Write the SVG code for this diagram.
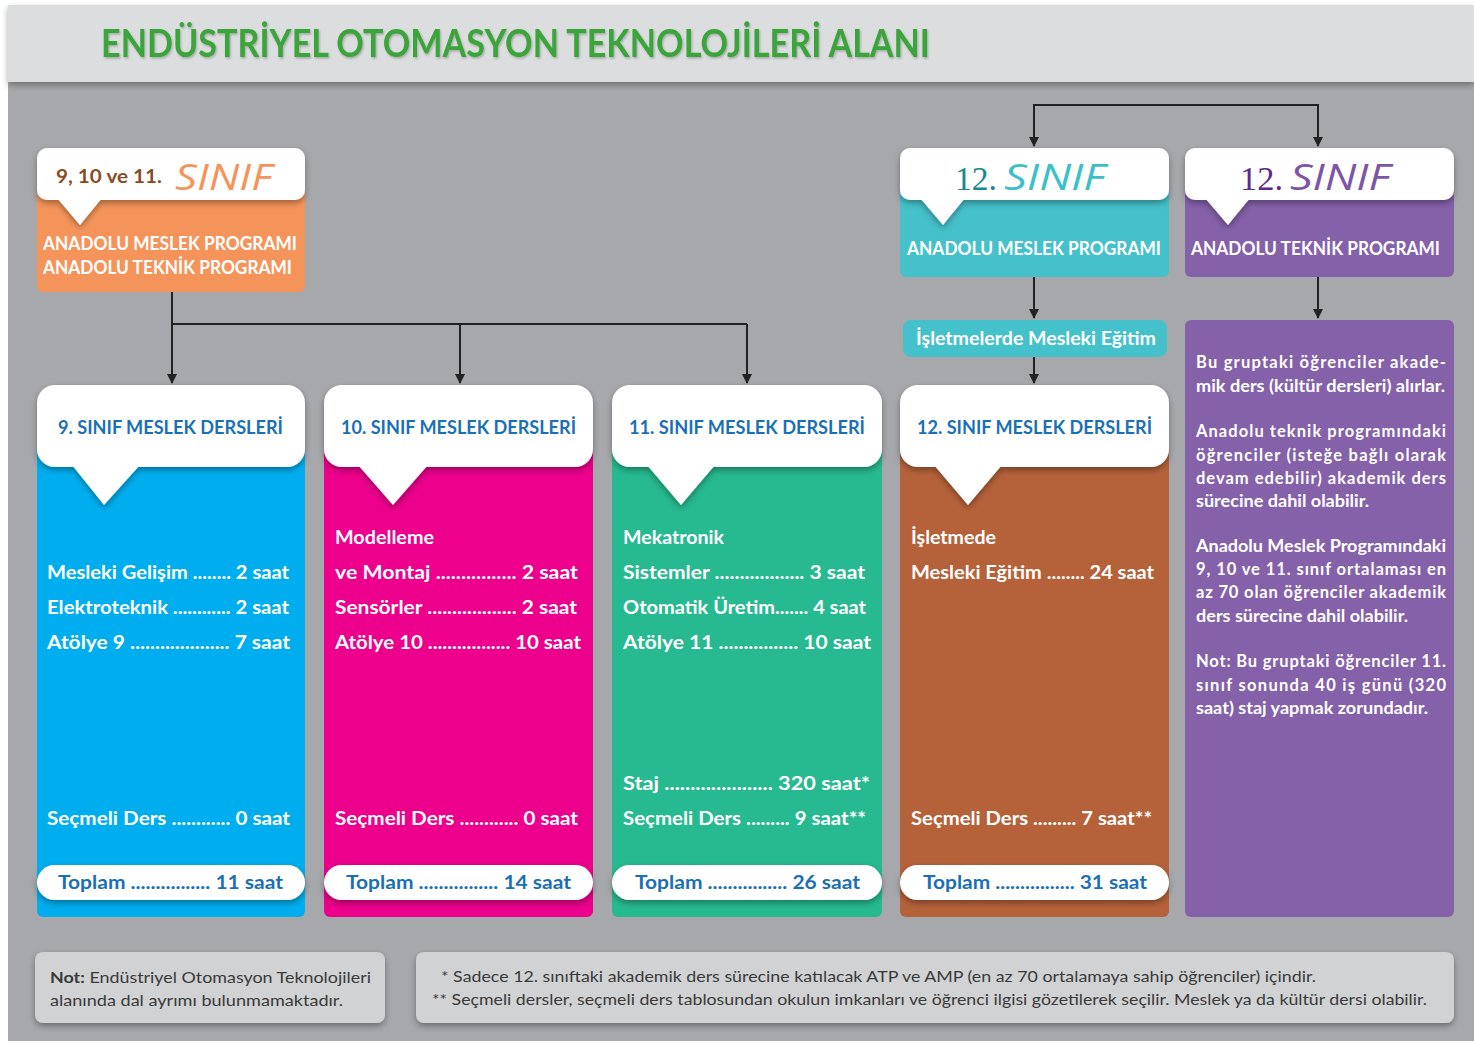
<svg xmlns="http://www.w3.org/2000/svg" width="1474" height="1041" viewBox="0 0 1474 1041">
<defs>
<style>
.b{font-family:Lato,"Open Sans","Liberation Sans",sans-serif;font-weight:700}
.r{font-family:Lato,"Open Sans","Liberation Sans",sans-serif;font-weight:400}
.w{fill:#ffffff;font-size:18px}
.hd{fill:#1a6fb5;font-size:18px}
.tp{fill:#1a6fb5;font-size:18px}
.pt{fill:#ffffff;font-size:16.5px}
.ft{fill:#3a3a3a;font-size:16px}
.ln{stroke:#222;stroke-width:2;fill:none}
.sinif{font-family:"Open Sans","DejaVu Sans",sans-serif;font-style:italic;font-weight:400;font-size:36px}
.num{font-family:"Liberation Serif",serif;font-size:34px}
</style>
<filter id="sh" x="-10%" y="-20%" width="120%" height="150%">
<feDropShadow dx="0" dy="3" stdDeviation="3" flood-color="#000" flood-opacity="0.35"/>
</filter>
<filter id="ts" x="-5%" y="-20%" width="110%" height="150%">
<feDropShadow dx="1" dy="1.5" stdDeviation="1" flood-color="#000" flood-opacity="0.25"/>
</filter>
<marker id="ah" viewBox="0 0 10 10" refX="9" refY="5" markerWidth="10" markerHeight="10" markerUnits="userSpaceOnUse" orient="auto">
<path d="M0,0 L10,5 L0,10 z" fill="#222"/>
</marker>
</defs>

<rect x="0" y="0" width="1474" height="1041" fill="#ffffff"/>
<rect x="8" y="82" width="1466" height="959" fill="#a7a8ab"/>
<rect x="8" y="5" width="1466" height="77" fill="#dcdddf" filter="url(#sh)"/>
<text x="101" y="57" class="b" font-size="38" fill="#3aa53a" textLength="829" lengthAdjust="spacingAndGlyphs" filter="url(#ts)">ENDÜSTRİYEL OTOMASYON TEKNOLOJİLERİ ALANI</text>

<g id="connectors">
<path class="ln" d="M172,292 V324 H747"/>
<path class="ln" d="M172,324 V383" marker-end="url(#ah)"/>
<path class="ln" d="M460,324 V383" marker-end="url(#ah)"/>
<path class="ln" d="M747,324 V383" marker-end="url(#ah)"/>
<path class="ln" d="M1034,146 V105 H1318 V146" marker-end="url(#ah)"/>
<path class="ln" d="M1034,105 V146" marker-end="url(#ah)"/>
<path class="ln" d="M1034,277 V318" marker-end="url(#ah)"/>
<path class="ln" d="M1034,357 V383" marker-end="url(#ah)"/>
<path class="ln" d="M1318,277 V318" marker-end="url(#ah)"/>
</g>

<g id="top-left">
<rect x="37" y="180" width="268" height="112" rx="6" fill="#f5945a"/>
<g filter="url(#sh)">
<rect x="37" y="148" width="268" height="52" rx="10" fill="#ffffff"/>
<path d="M57,198 L102,198 L80,225 z" fill="#ffffff"/>
</g>
<text x="56" y="183" class="b" font-size="19" fill="#8b4a1f" textLength="106" lengthAdjust="spacingAndGlyphs">9, 10 ve 11.</text>
<text x="175" y="190" class="sinif" fill="#f5945a" textLength="97" lengthAdjust="spacingAndGlyphs">SINIF</text>
<text x="43" y="250" class="b w" font-size="17" textLength="254" lengthAdjust="spacingAndGlyphs">ANADOLU MESLEK PROGRAMI</text>
<text x="43" y="274" class="b w" font-size="17" textLength="249" lengthAdjust="spacingAndGlyphs">ANADOLU TEKNİK PROGRAMI</text>
</g>

<g id="top-ams">
<rect x="900" y="180" width="269" height="97" rx="6" fill="#45c1cb"/>
<g filter="url(#sh)">
<rect x="900" y="148" width="269" height="52" rx="10" fill="#ffffff"/>
<path d="M920,198 L965,198 L943,225 z" fill="#ffffff"/>
</g>
<text x="955" y="190" class="num" fill="#1a8a8f" textLength="42" lengthAdjust="spacingAndGlyphs">12.</text>
<text x="1004" y="190" class="sinif" fill="#3bbfc8" textLength="101" lengthAdjust="spacingAndGlyphs">SINIF</text>
<text x="907" y="255" class="b w" font-size="17" textLength="254" lengthAdjust="spacingAndGlyphs">ANADOLU MESLEK PROGRAMI</text>
</g>

<g id="top-atp">
<rect x="1185" y="180" width="269" height="97" rx="6" fill="#8561a9"/>
<g filter="url(#sh)">
<rect x="1185" y="148" width="269" height="52" rx="10" fill="#ffffff"/>
<path d="M1205,198 L1250,198 L1228,225 z" fill="#ffffff"/>
</g>
<text x="1240" y="190" class="num" fill="#5b2d86" textLength="43" lengthAdjust="spacingAndGlyphs">12.</text>
<text x="1290" y="190" class="sinif" fill="#7d55a8" textLength="100" lengthAdjust="spacingAndGlyphs">SINIF</text>
<text x="1191" y="255" class="b w" font-size="17" textLength="249" lengthAdjust="spacingAndGlyphs">ANADOLU TEKNİK PROGRAMI</text>
</g>

<g id="isletme">
<rect x="903" y="320" width="264" height="37" rx="8" fill="#45c1cb"/>
<text x="916" y="345" class="b w" textLength="240" lengthAdjust="spacingAndGlyphs">İşletmelerde Mesleki Eğitim</text>
</g>

<g id="col9">
<rect x="37" y="440" width="268" height="477" rx="6" fill="#00aeef"/>
<g filter="url(#sh)">
<rect x="37" y="385" width="268" height="82" rx="18" fill="#ffffff"/>
<path d="M72,465 L140,465 L104,505 z" fill="#ffffff"/>
</g>
<text x="58" y="434" class="b hd" textLength="225" lengthAdjust="spacingAndGlyphs">9. SINIF MESLEK DERSLERİ</text>
<text x="47" y="579" class="b w" textLength="242" lengthAdjust="spacingAndGlyphs">Mesleki Gelişim ........ 2 saat</text>
<text x="47" y="614" class="b w" textLength="242" lengthAdjust="spacingAndGlyphs">Elektroteknik ............ 2 saat</text>
<text x="47" y="649" class="b w" textLength="243" lengthAdjust="spacingAndGlyphs">Atölye 9 .................... 7 saat</text>
<text x="47" y="825" class="b w" textLength="243" lengthAdjust="spacingAndGlyphs">Seçmeli Ders ............ 0 saat</text>
<rect x="37" y="865" width="268" height="35" rx="17.5" fill="#ffffff" filter="url(#sh)"/>
<text x="58" y="889" class="b tp" textLength="225" lengthAdjust="spacingAndGlyphs">Toplam ................ 11 saat</text>
</g>

<g id="col10">
<rect x="324" y="440" width="269" height="477" rx="6" fill="#ec008c"/>
<g filter="url(#sh)">
<rect x="324" y="385" width="269" height="82" rx="18" fill="#ffffff"/>
<path d="M358,465 L428,465 L393,505 z" fill="#ffffff"/>
</g>
<text x="341" y="434" class="b hd" textLength="235" lengthAdjust="spacingAndGlyphs">10. SINIF MESLEK DERSLERİ</text>
<text x="335" y="544" class="b w" textLength="99" lengthAdjust="spacingAndGlyphs">Modelleme</text>
<text x="335" y="579" class="b w" textLength="243" lengthAdjust="spacingAndGlyphs">ve Montaj ................ 2 saat</text>
<text x="335" y="614" class="b w" textLength="242" lengthAdjust="spacingAndGlyphs">Sensörler .................. 2 saat</text>
<text x="335" y="649" class="b w" textLength="246" lengthAdjust="spacingAndGlyphs">Atölye 10 ................. 10 saat</text>
<text x="335" y="825" class="b w" textLength="243" lengthAdjust="spacingAndGlyphs">Seçmeli Ders ............ 0 saat</text>
<rect x="324" y="865" width="269" height="35" rx="17.5" fill="#ffffff" filter="url(#sh)"/>
<text x="346" y="889" class="b tp" textLength="225" lengthAdjust="spacingAndGlyphs">Toplam ................ 14 saat</text>
</g>

<g id="col11">
<rect x="612" y="440" width="270" height="477" rx="6" fill="#27b98f"/>
<g filter="url(#sh)">
<rect x="612" y="385" width="270" height="82" rx="18" fill="#ffffff"/>
<path d="M647,465 L715,465 L681,505 z" fill="#ffffff"/>
</g>
<text x="629" y="434" class="b hd" textLength="236" lengthAdjust="spacingAndGlyphs">11. SINIF MESLEK DERSLERİ</text>
<text x="623" y="544" class="b w" textLength="101" lengthAdjust="spacingAndGlyphs">Mekatronik</text>
<text x="623" y="579" class="b w" textLength="242" lengthAdjust="spacingAndGlyphs">Sistemler .................. 3 saat</text>
<text x="623" y="614" class="b w" textLength="243" lengthAdjust="spacingAndGlyphs">Otomatik Üretim....... 4 saat</text>
<text x="623" y="649" class="b w" textLength="248" lengthAdjust="spacingAndGlyphs">Atölye 11 ................ 10 saat</text>
<text x="623" y="790" class="b w" textLength="247" lengthAdjust="spacingAndGlyphs">Staj ..................... 320 saat*</text>
<text x="623" y="825" class="b w" textLength="243" lengthAdjust="spacingAndGlyphs">Seçmeli Ders ......... 9 saat**</text>
<rect x="612" y="865" width="270" height="35" rx="17.5" fill="#ffffff" filter="url(#sh)"/>
<text x="635" y="889" class="b tp" textLength="225" lengthAdjust="spacingAndGlyphs">Toplam ................ 26 saat</text>
</g>

<g id="col12">
<rect x="900" y="440" width="269" height="477" rx="6" fill="#b5623a"/>
<g filter="url(#sh)">
<rect x="900" y="385" width="269" height="82" rx="18" fill="#ffffff"/>
<path d="M934,465 L1002,465 L968,505 z" fill="#ffffff"/>
</g>
<text x="917" y="434" class="b hd" textLength="235" lengthAdjust="spacingAndGlyphs">12. SINIF MESLEK DERSLERİ</text>
<text x="911" y="544" class="b w" textLength="85" lengthAdjust="spacingAndGlyphs">İşletmede</text>
<text x="911" y="579" class="b w" textLength="243" lengthAdjust="spacingAndGlyphs">Mesleki Eğitim ........ 24 saat</text>
<text x="911" y="825" class="b w" textLength="241" lengthAdjust="spacingAndGlyphs">Seçmeli Ders ......... 7 saat**</text>
<rect x="900" y="865" width="269" height="35" rx="17.5" fill="#ffffff" filter="url(#sh)"/>
<text x="923" y="889" class="b tp" textLength="224" lengthAdjust="spacingAndGlyphs">Toplam ................ 31 saat</text>
</g>

<g id="atp-info">
<rect x="1185" y="320" width="269" height="597" rx="6" fill="#8561a9"/>
<g class="b pt">
<text x="1196" y="368" textLength="250" lengthAdjust="spacing">Bu gruptaki öğrenciler akade-</text>
<text x="1196" y="392" textLength="249" lengthAdjust="spacingAndGlyphs">mik ders (kültür dersleri) alırlar.</text>
<text x="1196" y="437" textLength="250" lengthAdjust="spacing">Anadolu teknik programındaki</text>
<text x="1196" y="461" textLength="250" lengthAdjust="spacing">öğrenciler (isteğe bağlı olarak</text>
<text x="1196" y="484" textLength="250" lengthAdjust="spacing">devam edebilir) akademik ders</text>
<text x="1196" y="507" textLength="173" lengthAdjust="spacingAndGlyphs">sürecine dahil olabilir.</text>
<text x="1196" y="552" textLength="250" lengthAdjust="spacingAndGlyphs">Anadolu Meslek Programındaki</text>
<text x="1196" y="575" textLength="250" lengthAdjust="spacing">9, 10 ve 11. sınıf ortalaması en</text>
<text x="1196" y="598" textLength="250" lengthAdjust="spacing">az 70 olan öğrenciler akademik</text>
<text x="1196" y="622" textLength="212" lengthAdjust="spacingAndGlyphs">ders sürecine dahil olabilir.</text>
<text x="1196" y="667" textLength="250" lengthAdjust="spacing">Not: Bu gruptaki öğrenciler 11.</text>
<text x="1196" y="691" textLength="250" lengthAdjust="spacing">sınıf sonunda 40 iş günü (320</text>
<text x="1196" y="714" textLength="232" lengthAdjust="spacingAndGlyphs">saat) staj yapmak zorundadır.</text>
</g>
</g>

<g id="note-left">
<rect x="35" y="952" width="350" height="71" rx="8" fill="#d1d2d4" filter="url(#sh)"/>
<text x="50" y="983" class="r ft" textLength="321" lengthAdjust="spacingAndGlyphs"><tspan class="b">Not:</tspan> Endüstriyel Otomasyon Teknolojileri</text>
<text x="50" y="1006" class="r ft" textLength="293" lengthAdjust="spacingAndGlyphs">alanında dal ayrımı bulunmamaktadır.</text>
</g>

<g id="note-right">
<rect x="416" y="952" width="1038" height="71" rx="8" fill="#d1d2d4" filter="url(#sh)"/>
<text x="441" y="982" class="r ft" textLength="875" lengthAdjust="spacingAndGlyphs">* Sadece 12. sınıftaki akademik ders sürecine katılacak ATP ve AMP (en az 70 ortalamaya sahip öğrenciler) içindir.</text>
<text x="432" y="1005" class="r ft" textLength="995" lengthAdjust="spacingAndGlyphs">** Seçmeli dersler, seçmeli ders tablosundan okulun imkanları ve öğrenci ilgisi gözetilerek seçilir. Meslek ya da kültür dersi olabilir.</text>
</g>
</svg>
